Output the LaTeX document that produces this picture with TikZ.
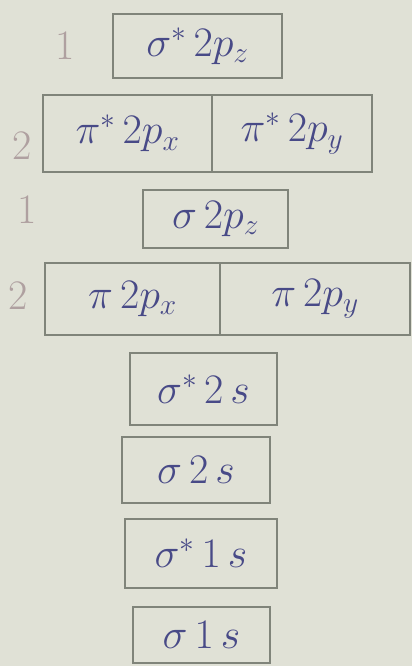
\RequirePackage{fix-cm}
\documentclass[tikz,border=0pt]{standalone}
\definecolor{paper}{RGB}{224,225,214}
\definecolor{ink}{RGB}{72,74,135}
\definecolor{boxline}{RGB}{128,132,122}
\definecolor{pencil}{RGB}{175,160,160}
\tikzset{
  orb/.style={draw=boxline, line width=2pt, rectangle, inner sep=0pt, text=ink,
    font=\fontsize{42}{46}\selectfont},
  cnt/.style={text=pencil, font=\fontsize{42}{44}\selectfont}
}
\begin{document}
\begin{tikzpicture}[x=1pt,y=-1pt]
\fill[paper] (0,0) rectangle (412,666);
\useasboundingbox (0,0) rectangle (412,666);
% orbitals
\node[orb, minimum width=169pt, minimum height=64pt] (s2pzs) at (197.5,46) {$\sigma^{*}\,2p_z$};
\node[orb, minimum width=169pt, minimum height=77pt] (p2pxs) at (127.5,133.5) {$\pi^{*}\,2p_x$};
\node[orb, minimum width=160pt, minimum height=77pt] (p2pys) at (292,133.5) {$\pi^{*}\,2p_y$};
\node[orb, minimum width=145pt, minimum height=58pt] (s2pz) at (215.5,219) {$\sigma\,2p_z$};
\node[orb, minimum width=175pt, minimum height=72pt] (p2px) at (132.5,299) {$\pi\,2p_x$};
\node[orb, minimum width=190pt, minimum height=72pt] (p2py) at (315,299) {$\pi\,2p_y$};
\node[orb, minimum width=147pt, minimum height=72pt] (s2ss) at (203.5,389) {$\sigma^{*}\,2\,s$};
\node[orb, minimum width=148pt, minimum height=66pt] (s2s) at (196,470) {$\sigma\,2\,s$};
\node[orb, minimum width=152pt, minimum height=69pt] (s1ss) at (201,553.5) {$\sigma^{*}\,1\,s$};
\node[orb, minimum width=137pt, minimum height=56pt] (s1s) at (201.5,635) {$\sigma\,1\,s$};
% degeneracy counts
\node[cnt] (c1) at (65,46) {1};
\node[cnt] (c2) at (22,146) {2};
\node[cnt] (c3) at (27,210) {1};
\node[cnt] (c4) at (18,296) {2};
\end{tikzpicture}
\end{document}
